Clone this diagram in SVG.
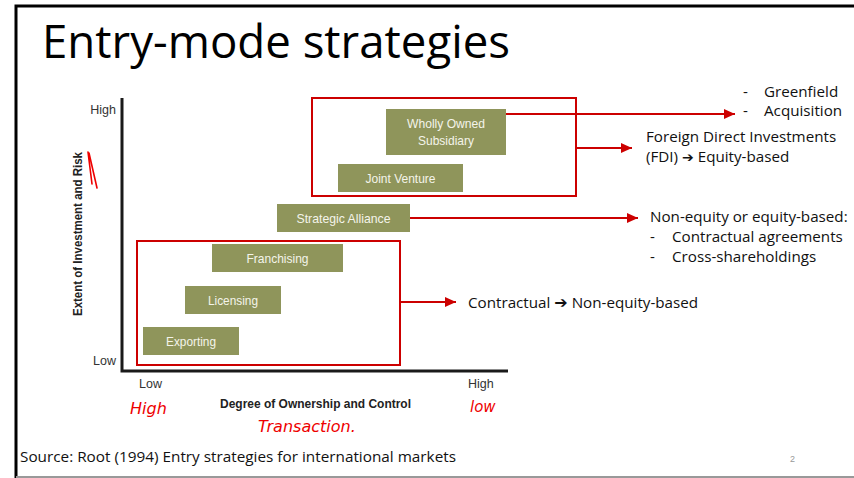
<svg xmlns="http://www.w3.org/2000/svg" width="854" height="478" viewBox="0 0 854 478">
  <style>
    .title { font-family: "Open Sans", "Liberation Sans", sans-serif; font-size: 46px; fill: #000; }
    .box { fill: #8f955b; }
    .boxtxt { font-family: "Liberation Sans", Arial, sans-serif; font-size: 13px; fill: #f4f4ea; text-anchor: middle; }
    .axis { stroke: #1a1a1a; stroke-width: 3; fill: none; }
    .tick { font-family: "Liberation Sans", Arial, sans-serif; font-size: 12.5px; fill: #333; }
    .axtitle { font-family: "Liberation Sans", Arial, sans-serif; font-size: 13px; font-weight: bold; fill: #222; }
    .group { fill: none; stroke: #cc0000; stroke-width: 2; }
    .conn { fill: none; stroke: #cc0000; stroke-width: 2; }
    .note { font-family: "Open Sans", "Liberation Sans", sans-serif; font-size: 15.2px; fill: #111; }
    .arr { font-family: "DejaVu Sans", sans-serif; }
    .ink { font-family: "DejaVu Sans", sans-serif; font-style: italic; fill: #ee0000; }
  </style>
  <defs>
    <marker id="arrow" markerUnits="userSpaceOnUse" markerWidth="12" markerHeight="10" refX="11" refY="5" orient="auto">
      <path d="M0,0 L11,5 L0,10 Z" fill="#cc0000"/>
    </marker>
  </defs>

  <!-- slide frame -->
  <rect width="854" height="478" fill="#fff"/>
  <path d="M16,478 V6 H854" fill="none" stroke="#000" stroke-width="3"/>
  <line x1="16" y1="477" x2="854" y2="477" stroke="#999" stroke-width="2"/>

  <text class="title" x="42" y="58" textLength="468" lengthAdjust="spacingAndGlyphs">Entry-mode strategies</text>

  <!-- axes -->
  <g id="axes">
    <path class="axis" d="M122,98 V371 H508"/>
    <text class="tick" x="116" y="114" text-anchor="end">High</text>
    <text class="tick" x="116" y="365" text-anchor="end">Low</text>
    <text class="tick" x="139" y="388">Low</text>
    <text class="tick" x="468" y="388">High</text>
    <text class="axtitle" x="220" y="408" textLength="191" lengthAdjust="spacingAndGlyphs">Degree of Ownership and Control</text>
    <text class="axtitle" transform="translate(82,234) rotate(-90)" text-anchor="middle" textLength="164" lengthAdjust="spacingAndGlyphs">Extent of Investment and Risk</text>
  </g>

  <!-- entry modes -->
  <g id="exporting">
    <rect class="box" x="143" y="327" width="96" height="28"/>
    <text class="boxtxt" x="191" y="345.5" textLength="50" lengthAdjust="spacingAndGlyphs">Exporting</text>
  </g>
  <g id="licensing">
    <rect class="box" x="185" y="286" width="96" height="28"/>
    <text class="boxtxt" x="233" y="304.5" textLength="50" lengthAdjust="spacingAndGlyphs">Licensing</text>
  </g>
  <g id="franchising">
    <rect class="box" x="212" y="244" width="131" height="28"/>
    <text class="boxtxt" x="277.5" y="262.5" textLength="62" lengthAdjust="spacingAndGlyphs">Franchising</text>
  </g>
  <g id="strategic-alliance">
    <rect class="box" x="277" y="204" width="133" height="28"/>
    <text class="boxtxt" x="343.5" y="222.5" textLength="94" lengthAdjust="spacingAndGlyphs">Strategic Alliance</text>
  </g>
  <g id="joint-venture">
    <rect class="box" x="338" y="164" width="125" height="28"/>
    <text class="boxtxt" x="400.5" y="182.5" textLength="70" lengthAdjust="spacingAndGlyphs">Joint Venture</text>
  </g>
  <g id="wholly-owned">
    <rect class="box" x="386" y="109" width="120" height="46"/>
    <text class="boxtxt" x="446" y="128" textLength="78" lengthAdjust="spacingAndGlyphs">Wholly Owned</text>
    <text class="boxtxt" x="446" y="145" textLength="56" lengthAdjust="spacingAndGlyphs">Subsidiary</text>
  </g>

  <!-- grouping frames -->
  <g id="fdi-group">
    <rect class="group" x="312" y="98" width="264" height="98"/>
  </g>
  <g id="contractual-group">
    <rect class="group" x="137" y="241" width="263" height="124"/>
  </g>

  <!-- connectors -->
  <g id="connectors">
    <line class="conn" x1="506" y1="114" x2="735" y2="114" marker-end="url(#arrow)"/>
    <line class="conn" x1="576" y1="148" x2="632" y2="148" marker-end="url(#arrow)"/>
    <line class="conn" x1="410" y1="218" x2="638" y2="218" marker-end="url(#arrow)"/>
    <line class="conn" x1="400" y1="302" x2="456" y2="302" marker-end="url(#arrow)"/>
  </g>

  <!-- notes -->
  <g id="notes">
    <text class="note" x="743" y="97">-</text>
    <text class="note" x="764" y="97">Greenfield</text>
    <text class="note" x="743" y="116">-</text>
    <text class="note" x="764" y="116">Acquisition</text>
    <text class="note" x="646" y="142">Foreign Direct Investments</text>
    <text class="note" x="646" y="162">(FDI) <tspan class="arr" font-size="14">➔</tspan> Equity-based</text>
    <text class="note" x="650" y="222">Non-equity or equity-based:</text>
    <text class="note" x="650" y="242">-</text>
    <text class="note" x="672" y="242">Contractual agreements</text>
    <text class="note" x="650" y="262">-</text>
    <text class="note" x="672" y="262">Cross-shareholdings</text>
    <text class="note" x="468" y="308">Contractual <tspan class="arr" font-size="16">➔</tspan> Non-equity-based</text>
    <text class="note" x="20" y="462" textLength="436" lengthAdjust="spacingAndGlyphs">Source: Root (1994) Entry strategies for international markets</text>
    <text x="790" y="462" font-family="Liberation Sans, sans-serif" font-size="9" fill="#999">2</text>
  </g>

  <!-- pen annotations -->
  <g id="annotations">
    <path d="M88,152 L92,184 M89,153 L97,188" fill="none" stroke="#ee0000" stroke-width="1.6" stroke-linecap="round"/>
    <text class="ink" x="130" y="414" font-size="16">High</text>
    <text class="ink" x="258" y="432" font-size="16">Transaction.</text>
    <text class="ink" x="470" y="412" font-size="15">low</text>
  </g>
</svg>
